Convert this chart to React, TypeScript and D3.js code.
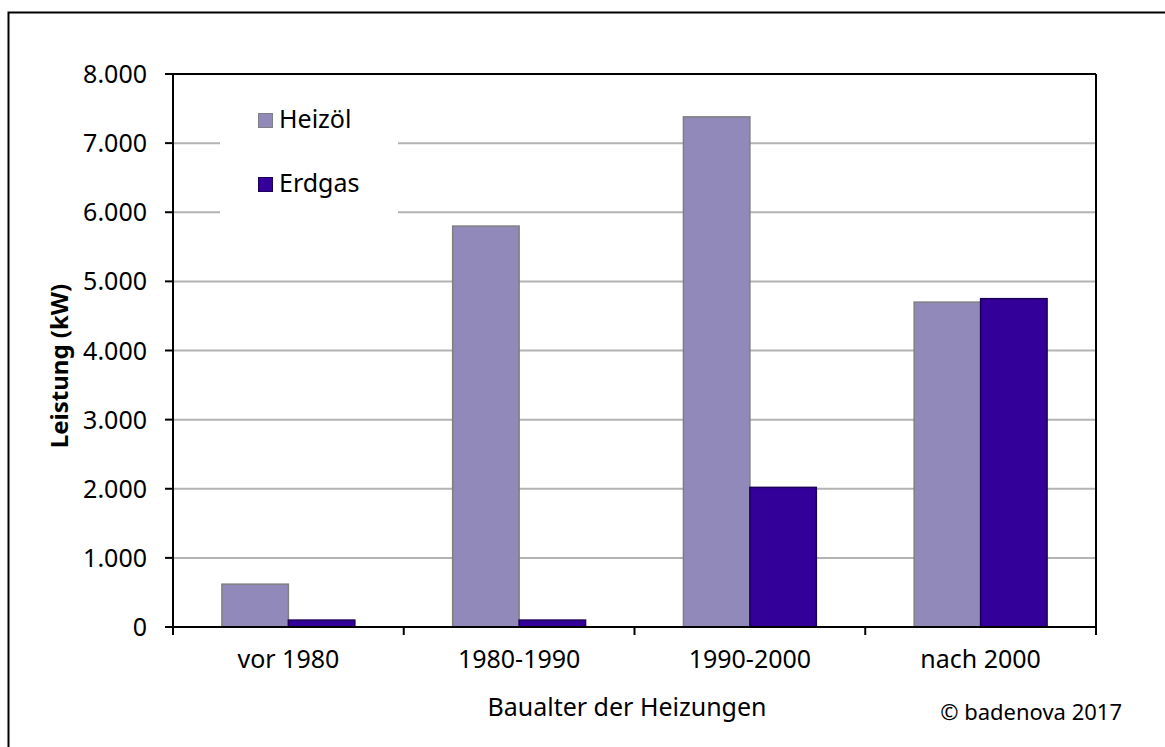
import React from 'react';
import * as d3 from 'd3';

/* data */
const categories = ['vor 1980', '1980-1990', '1990-2000', 'nach 2000'];
const seriesNames = ['Heizöl', 'Erdgas'];
const heizoel = [620, 5800, 7380, 4700];
const erdgas = [100, 100, 2020, 4750];
const yTicks = [0, 1000, 2000, 3000, 4000, 5000, 6000, 7000, 8000];

const COLORS = {
    heizoel: '#9189ba',
    heizoelStroke: '#7f7f7f',
    erdgas: '#330099',
    erdgasStroke: '#1c0055',
    grid: '#b3b3b3',
    axis: '#000',
};

const FONT = "'Noto Sans', 'Open Sans', sans-serif";

const W = 1165;
const H = 747;
const margin = { left: 173, top: 74, right: 1096, bottom: 627 };

const fmt = (d: number) => (d === 0 ? '0' : d3.format(',')(d).replace(/,/g, '.'));

export default function App() {
    const x = d3.scaleBand<string>().domain(categories).range([margin.left, margin.right]);
    const y = d3.scaleLinear().domain([0, 8000]).range([margin.bottom, margin.top]);
    const bw = x.bandwidth();
    const barW = bw * 0.288;
    const groupOff = (bw - 2 * barW) / 2;
    const series = [
        { name: seriesNames[0], values: heizoel, fill: COLORS.heizoel, stroke: COLORS.heizoelStroke },
        { name: seriesNames[1], values: erdgas, fill: COLORS.erdgas, stroke: COLORS.erdgasStroke },
    ];

    return (
        <svg width={W} height={H} style={{ position: 'absolute', left: 0, top: 0, fontFamily: FONT }}>
            <rect x={0} y={0} width={W} height={H} fill="#fff" />
            {/* outer frame */}
            <rect x={8.5} y={12.5} width={W + 20} height={H + 20} fill="none" stroke="#000" strokeWidth={2} />

            {/* grid */}
            {yTicks.filter(t => t > 0 && t < 8000).map(t => (
                <line key={t} x1={margin.left} x2={margin.right} y1={y(t)} y2={y(t)} stroke={COLORS.grid} strokeWidth={2} />
            ))}

            {/* legend box (white, hides grid) */}
            <rect x={220} y={92} width={178} height={130} fill="#fff" />
            {series.map((s, i) => (
                <g key={s.name} transform={`translate(258,${113 + i * 64})`}>
                    <rect x={0.5} y={0.5} width={14} height={14} fill={s.fill} stroke={s.stroke} strokeWidth={1} />
                    <text x={21} y={15} fontSize={25} fill="#000">{s.name}</text>
                </g>
            ))}

            {/* bars */}
            {series.map((s, si) => s.values.map((v, ci) => (
                <rect key={s.name + ci}
                    x={(x(categories[ci]) as number) + groupOff + si * barW}
                    y={y(v)} width={barW} height={y(0) - y(v)}
                    fill={s.fill} stroke={s.stroke} strokeWidth={1.5} />
            )))}

            {/* plot frame */}
            <line x1={margin.left} x2={margin.right} y1={margin.top} y2={margin.top} stroke="#000" strokeWidth={2} />
            <line x1={margin.right} x2={margin.right} y1={margin.top} y2={margin.bottom + 8} stroke="#000" strokeWidth={2} />
            <line x1={margin.left} x2={margin.left} y1={margin.top} y2={margin.bottom + 8} stroke="#000" strokeWidth={2} />
            <line x1={margin.left - 8} x2={margin.right} y1={margin.bottom} y2={margin.bottom} stroke="#000" strokeWidth={2} />

            {/* y ticks */}
            {yTicks.map(t => (
                <g key={t}>
                    <line x1={margin.left - 8} x2={margin.left} y1={y(t)} y2={y(t)} stroke="#000" strokeWidth={2} />
                    <text x={147} y={y(t)} dy="0.36em" textAnchor="end" fontSize={25}>{fmt(t)}</text>
                </g>
            ))}

            {/* x ticks */}
            {categories.map((c, i) => (
                <g key={c}>
                    {i > 0 && <line x1={x(c)} x2={x(c)} y1={margin.bottom} y2={margin.bottom + 8} stroke="#000" strokeWidth={2} />}
                    <text x={(x(c) as number) + bw / 2} y={668} textAnchor="middle" fontSize={25}>{c}</text>
                </g>
            ))}

            {/* axis titles */}
            <text x={627} y={716} textAnchor="middle" fontSize={25}>Baualter der Heizungen</text>
            <text transform={`translate(68,366) rotate(-90)`} textAnchor="middle" fontSize={24} fontWeight="bold">Leistung (kW)</text>
            <text x={1122} y={720} textAnchor="end" fontSize={22}>© badenova 2017</text>
        </svg>
    );
}
